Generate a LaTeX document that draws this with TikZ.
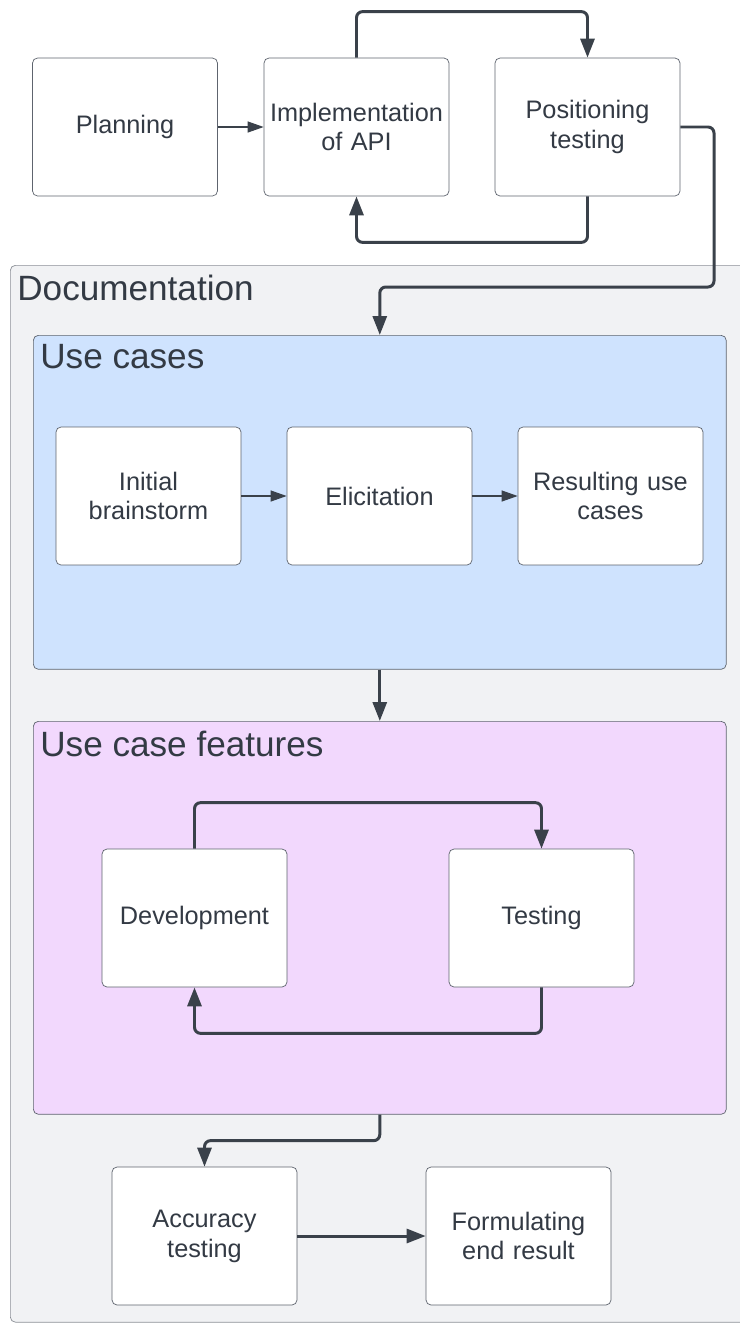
\documentclass[tikz,border=0pt]{standalone}
\usepackage{fontspec}
\setmainfont{Liberation Sans}
\usetikzlibrary{arrows.meta, positioning}
\definecolor{lineDark}{HTML}{3A414A}
\definecolor{textDark}{HTML}{333A44}
\definecolor{boxEdge}{HTML}{5E646E}
\definecolor{docGrey}{HTML}{F1F2F4}
\definecolor{docEdge}{HTML}{8C9097}
\definecolor{useBlue}{HTML}{CFE3FE}
\definecolor{featPink}{HTML}{F2D8FD}
\tikzset{
    stepBox/.style={draw=boxEdge, fill=white, rounded corners=0.1cm, inner sep=0pt, minimum width=3.7cm, minimum height=2.76cm, text width=3.6cm, align=center, text=textDark, font=\fontsize{14.4}{17}\selectfont},
    groupBox/.style={draw=boxEdge, rounded corners=0.1cm, anchor=north west, inner sep=0pt},
    groupTitle/.style={anchor=base west, inner sep=0pt, text=textDark, font=\fontsize{20}{23}\selectfont},
    thinArrow/.style={-{Triangle[length=3.2mm, width=2.2mm]}, draw=lineDark, line width=0.6pt},
    loopArrow/.style={-{Triangle[length=3.8mm, width=2.8mm]}, draw=lineDark, line width=1.7pt, rounded corners=0.12cm}
}

\begin{document}
\begin{tikzpicture}[x=0.02cm, y=-0.02cm]
    \useasboundingbox (0,0) rectangle (740,1326);
    % containers
    \node[groupBox, draw=docEdge, fill=docGrey, minimum width=15cm, minimum height=21.14cm] (doc) at (10,265) {};
    \node[groupTitle] (docTitle) at (17,300) {Documentation};
    \node[groupBox, fill=useBlue, minimum width=13.86cm, minimum height=6.68cm] (usecases) at (33,335) {};
    \node[groupTitle] (useTitle) at (40,368) {Use cases};
    \node[groupBox, fill=featPink, minimum width=13.86cm, minimum height=7.86cm] (features) at (33,721) {};
    \node[groupTitle] (featTitle) at (40,756) {Use case features};

    % top row
    \node[stepBox] (plan) at (125,127) {Planning};
    \node[stepBox] (impl) at (356.5,127) {Implementation\\of API};
    \node[stepBox] (posi) at (587.5,127) {Positioning\\testing};
    \draw[thinArrow] (plan) -- (impl);
    \draw[loopArrow] (impl.north) -- ++(0,-46) -| (posi.north);
    \draw[loopArrow] (posi.south) -- ++(0,46) -| (impl.south);
    \coordinate (docIn) at (714,287);
    \draw[loopArrow] (posi.east) -| (docIn) -| (usecases.north);

    % use cases
    \node[stepBox] (brain) at (148.5,496) {Initial\\brainstorm};
    \node[stepBox] (elic) at (379.5,496) {Elicitation};
    \node[stepBox] (result) at (610.5,496) {Resulting use\\cases};
    \draw[thinArrow] (brain) -- (elic);
    \draw[thinArrow] (elic) -- (result);
    \draw[loopArrow] (usecases.south) -- (features.north);

    % features
    \node[stepBox] (dev) at (194.5,918) {Development};
    \node[stepBox] (test) at (541.5,918) {Testing};
    \draw[loopArrow] (dev.north) -- ++(0,-46) -| (test.north);
    \draw[loopArrow] (test.south) -- ++(0,46) -| (dev.south);

    % end
    \node[stepBox] (acc) at (204.5,1236) {Accuracy\\testing};
    \node[stepBox] (formul) at (518.5,1236) {Formulating\\end result};
    \draw[loopArrow] (features.south) -- ++(0,26) -| (acc.north);
    \draw[loopArrow] (acc) -- (formul);
\end{tikzpicture}
\end{document}
